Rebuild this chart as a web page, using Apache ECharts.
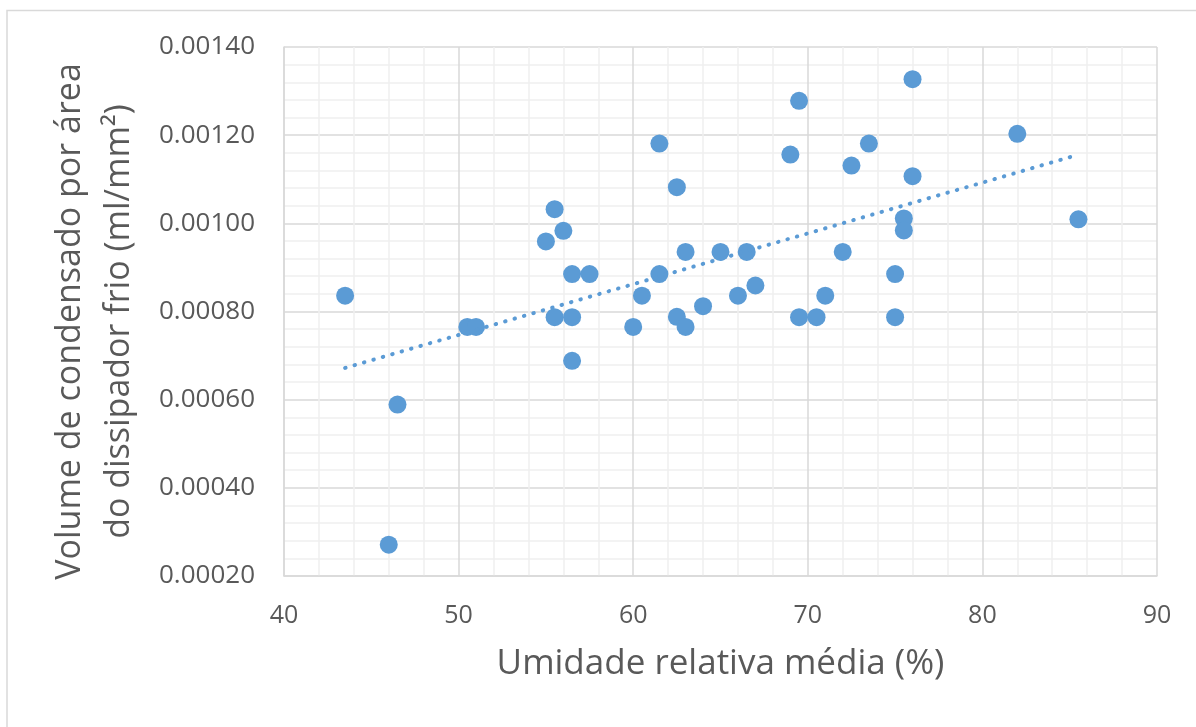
<!DOCTYPE html>
<html>
<head>
<meta charset="utf-8">
<script src="https://cdn.jsdelivr.net/npm/echarts@6/dist/echarts.min.js"></script>
<style>
html,body{margin:0;padding:0;background:#fff;}
#chart{width:1196px;height:727px;}
</style>
</head>
<body>
<div id="chart"></div>
<script>
// Umidade relativa média (%)
const humidity = [43.5, 46.5, 46.0, 50.5, 51.0, 55.0, 55.5, 56.0, 55.5, 56.5, 57.5, 56.5, 56.5,
  60.0, 60.5, 61.5, 61.5, 62.5, 62.5, 63.0, 63.0, 64.0, 65.0, 66.0, 66.5, 67.0,
  69.0, 69.5, 69.5, 70.5, 71.0, 72.0, 72.5, 73.5, 75.0, 75.0, 75.5, 75.5, 76.0, 76.0, 82.0, 85.5];
// Volume de condensado por área (ml/mm²)
const volume = [0.000836, 0.000589, 0.000271, 0.000765, 0.000765, 0.000959, 0.001032, 0.000983, 0.000787, 0.000885, 0.000885, 0.000787, 0.000688,
  0.000765, 0.000836, 0.001181, 0.000885, 0.001082, 0.000788, 0.000935, 0.000765, 0.000812, 0.000935, 0.000836, 0.000935, 0.000859,
  0.001156, 0.001278, 0.000787, 0.000787, 0.000836, 0.000935, 0.001131, 0.001181, 0.000885, 0.000787, 0.001011, 0.000984, 0.001327, 0.001107, 0.001203, 0.001009];

const xTicks = [40, 50, 60, 70, 80, 90];
const yTicks = [0.0002, 0.0004, 0.0006, 0.0008, 0.0010, 0.0012, 0.0014];

const xTitle = 'Umidade relativa média (%)';
const yTitle = 'Volume de condensado por área\ndo dissipador frio (ml/mm²)';

// linear least-squares trendline from the data
const n = humidity.length;
let sx = 0, sy = 0, sxx = 0, sxy = 0;
for (let i = 0; i < n; i++) { sx += humidity[i]; sy += volume[i]; sxx += humidity[i]*humidity[i]; sxy += humidity[i]*volume[i]; }
const slope = (n*sxy - sx*sy) / (n*sxx - sx*sx);
const icpt = (sy - slope*sx) / n;
const xmin = Math.min(...humidity), xmax = Math.max(...humidity);
const trend = [[xmin, icpt + slope*xmin], [xmax, icpt + slope*xmax]];

const pts = humidity.map((h, i) => [h, volume[i]]);
const FONT = 'Open Sans';
const BLUE = '#5B9BD5';

const chart = echarts.init(document.getElementById('chart'), null, {renderer: 'canvas'});
chart.setOption({
  backgroundColor: '#fff',
  animation: false,
  graphic: [{
    type: 'rect', silent: true, z: -10,
    shape: {x: 7, y: 10.5, width: 1300, height: 900},
    style: {fill: 'none', stroke: '#d9d9d9', lineWidth: 1.5}
  }],
  grid: {left: 284, right: 39, top: 47, bottom: 151, containLabel: false},
  xAxis: {
    type: 'value', min: xTicks[0], max: xTicks[xTicks.length-1], interval: 10,
    axisLine: {show: true, lineStyle: {color: '#d9d9d9', width: 1.5}},
    axisTick: {show: false},
    axisLabel: {color: '#595959', fontFamily: FONT, fontSize: 25, margin: 27},
    splitLine: {show: true, lineStyle: {color: '#d9d9d9', width: 1.5}},
    minorTick: {show: false, splitNumber: 5},
    minorSplitLine: {show: true, lineStyle: {color: '#f0f0f0', width: 1.5}},
    name: xTitle, nameLocation: 'middle', nameGap: 71,
    nameTextStyle: {color: '#595959', fontFamily: FONT, fontSize: 35}
  },
  yAxis: {
    type: 'value', min: yTicks[0], max: yTicks[yTicks.length-1], interval: 0.0002,
    axisLine: {show: true, lineStyle: {color: '#d9d9d9', width: 1.5}},
    axisTick: {show: false},
    axisLabel: {color: '#595959', fontFamily: FONT, fontSize: 26, margin: 29,
      formatter: v => v.toFixed(5)},
    splitLine: {show: true, lineStyle: {color: '#d9d9d9', width: 1.5}},
    minorTick: {show: false, splitNumber: 5},
    minorSplitLine: {show: true, lineStyle: {color: '#f0f0f0', width: 1.5}},
    name: yTitle, nameLocation: 'middle', nameGap: 140, nameRotate: 90,
    nameTextStyle: {color: '#595959', fontFamily: FONT, fontSize: 34, lineHeight: 49, align: 'center',
      padding: [0, 20, 0, 0]}
  },
  series: [{
    type: 'scatter', data: pts, symbol: 'circle', symbolSize: 18,
    itemStyle: {color: BLUE, opacity: 1}, z: 2
  }, {
    type: 'line', data: trend, showSymbol: false, symbol: 'none', z: 3,
    lineStyle: {color: BLUE, width: 4, type: [0.5, 9.3], cap: 'round'}
  }]
});
</script>
</body>
</html>
